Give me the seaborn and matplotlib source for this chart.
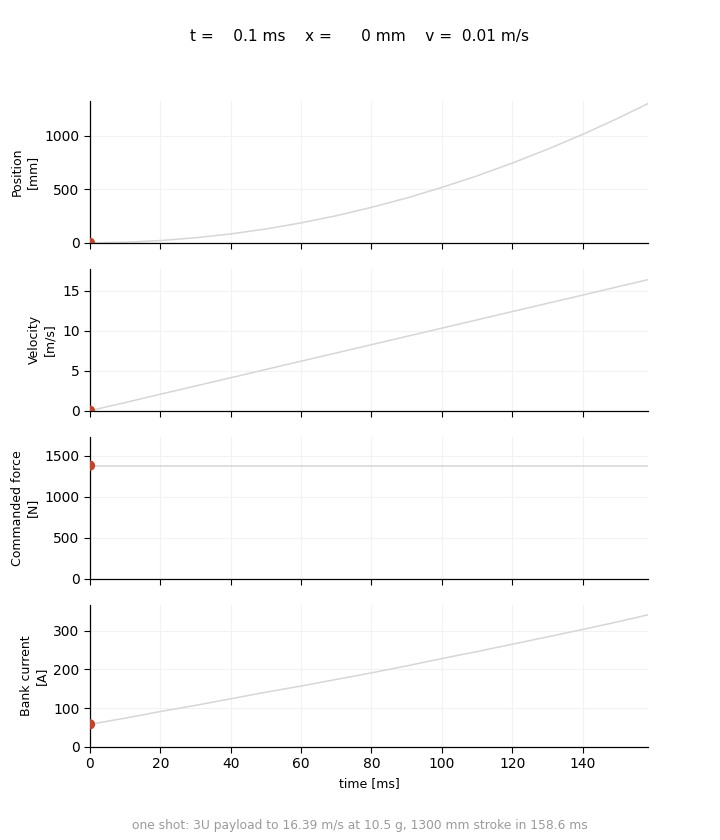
import numpy as np
import pandas as pd
import matplotlib
matplotlib.use('Agg')
import matplotlib.pyplot as plt
import seaborn as sns

time_ms = [0, 10, 20, 30, 40, 50, 60, 70, 80, 90, 100, 110, 120, 130, 140, 150, 158.6]
position_mm = [0, 5, 21, 47, 83, 129, 186, 253, 331, 418, 517, 625, 744, 873, 1012, 1162, 1300]
velocity_ms = [0.01, 1.03, 2.07, 3.10, 4.13, 5.17, 6.20, 7.23, 8.26, 9.30, 10.33, 11.36,
               12.40, 13.43, 14.46, 15.50, 16.39]
force_n = [1380] * 17
current_a = [58, 74, 91, 107, 124, 141, 157, 174, 191, 209, 228, 246, 265, 284, 303, 323, 341]

# current marker (first sample)
t_now = 0.1
x_now = 0
v_now = 0.01

panels = [
    ('Position\n[mm]', 1326, [0, 500, 1000]),
    ('Velocity\n[m/s]', 17.75, [0, 5, 10, 15]),
    ('Commanded force\n[N]', 1732, [0, 500, 1000, 1500]),
    ('Bank current\n[A]', 367, [0, 100, 200, 300]),
]

sns.set_theme(style='ticks', rc={'text.color': 'black', 'axes.labelcolor': 'black',
                                 'xtick.color': 'black', 'ytick.color': 'black',
                                 'axes.edgecolor': 'black'})
plt.rcParams['font.family'] = ['DejaVu Sans']

df = pd.DataFrame({'t': time_ms, 'pos': position_mm, 'vel': velocity_ms,
                   'force': force_n, 'cur': current_a})
cols = ['pos', 'vel', 'force', 'cur']

fig, axes = plt.subplots(4, 1, figsize=(7.2, 8.4), dpi=100, sharex=True,
                         gridspec_kw={'hspace': 0.183})
fig.subplots_adjust(left=0.125, right=0.9, top=0.88, bottom=0.111)

for ax, (label, ytop, yticks), col in zip(axes, panels, cols):
    ax.grid(True, color='#f2f2f2', linewidth=0.8)
    ax.set_axisbelow(True)
    sns.lineplot(data=df, x='t', y=col, ax=ax, color='#d6d6d6', linewidth=1.1)
    sns.scatterplot(x=[df['t'].iloc[0]], y=[df[col].iloc[0]], ax=ax, color='#c4442a',
                    s=55, edgecolor='none', zorder=5)
    ax.set_xlim(0, 158.6)
    ax.set_ylim(0, ytop)
    ax.set_yticks(yticks)
    ax.set_ylabel(label, fontsize=9)
    ax.set_xlabel('')
    ax.tick_params(labelsize=10, length=4, width=0.8)
    for s in ax.spines.values():
        s.set_linewidth(0.9)
    sns.despine(ax=ax)

axes[-1].set_xticks([0, 20, 40, 60, 80, 100, 120, 140])
axes[-1].set_xlabel('time [ms]', fontsize=9)

fig.text(0.5, 0.957, f't = {t_now:6.1f} ms    x = {x_now:6.0f} mm    v = {v_now:5.2f} m/s',
         ha='center', va='center', fontsize=11.1)
fig.text(0.5, 0.017, 'one shot: 3U payload to 16.39 m/s at 10.5 g, 1300 mm stroke in 158.6 ms',
         ha='center', va='center', fontsize=8.8, color='#9a9a9a')

fig.savefig('out.png', dpi=100)
